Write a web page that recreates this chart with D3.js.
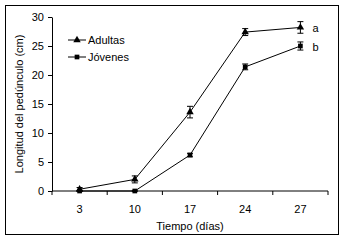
<!DOCTYPE html>
<html>
<head>
<meta charset="utf-8">
<script src="https://cdn.jsdelivr.net/npm/d3@7"></script>
<style>
  body { margin: 0; background: #fff; }
  text { font-family: "Liberation Sans", Arial, sans-serif; font-size: 11px; fill: #000; }
</style>
</head>
<body>
<div id="drawing"></div>
<script>
var width = 344;
var height = 240;
var margin = {top: 17, right: 16, bottom: 49, left: 52};

var dias = ["3", "10", "17", "24", "27"];
var adultas = [0.3, 2.0, 13.6, 27.4, 28.2];
var adultasErr = [0.3, 0.6, 1.0, 0.6, 1.0];
var jovenes = [0, 0, 6.2, 21.4, 25.0];
var jovenesErr = [0.1, 0.1, 0.3, 0.5, 0.7];
var yTicks = [0, 5, 10, 15, 20, 25, 30];

var svg = d3.select("#drawing").append("svg")
  .attr("width", width)
  .attr("height", height);

// outer frame
svg.append("rect")
  .attr("x", 5.5).attr("y", 5.5)
  .attr("width", 333).attr("height", 229)
  .attr("fill", "none").attr("stroke", "#000");

var plotW = width - margin.left - margin.right;
var plotH = height - margin.top - margin.bottom;

var g = svg.append("g")
  .attr("transform", `translate(${margin.left}, ${margin.top})`);

var x = d3.scaleBand().domain(dias).range([0, plotW]);
var y = d3.scaleLinear().domain([0, 30]).range([plotH, 0]);

// y axis
var yAxis = g.append("g")
  .call(d3.axisLeft(y).tickValues(yTicks).tickSize(4).tickPadding(4).tickSizeOuter(0));
yAxis.select(".domain").attr("stroke", "#000");

// x axis with ticks between categories
var xAxis = g.append("g").attr("transform", `translate(0, ${plotH})`);
xAxis.append("line")
  .attr("x1", 0).attr("x2", plotW)
  .attr("stroke", "#000");
xAxis.selectAll(".tk")
  .data(d3.range(dias.length + 1))
  .join("line")
  .attr("x1", i => i * x.step()).attr("x2", i => i * x.step())
  .attr("y1", 0).attr("y2", 4)
  .attr("stroke", "#000");
xAxis.selectAll(".lbl")
  .data(dias)
  .join("text")
  .attr("x", d => x(d) + x.bandwidth() / 2)
  .attr("y", 22)
  .attr("text-anchor", "middle")
  .text(d => d);

// axis titles
svg.append("text")
  .attr("x", margin.left + plotW / 2)
  .attr("y", 230)
  .attr("text-anchor", "middle")
  .text("Tiempo (días)");

svg.append("text")
  .attr("transform", `translate(23, ${margin.top + plotH / 2}) rotate(-90)`)
  .attr("text-anchor", "middle")
  .text("Longitud del pedúnculo (cm)");

function cx(i) { return x(dias[i]) + x.bandwidth() / 2; }

function drawSeries(vals, errs, shape) {
  var line = d3.line().x((d, i) => cx(i)).y(d => y(d));
  g.append("path")
    .attr("d", line(vals))
    .attr("fill", "none")
    .attr("stroke", "#000")
    .attr("stroke-width", 1);

  vals.forEach((v, i) => {
    var e = errs[i];
    var bars = g.append("g").attr("stroke", "#000");
    bars.append("line").attr("x1", cx(i)).attr("x2", cx(i)).attr("y1", y(v - e)).attr("y2", y(v + e));
    bars.append("line").attr("x1", cx(i) - 3).attr("x2", cx(i) + 3).attr("y1", y(v - e)).attr("y2", y(v - e));
    bars.append("line").attr("x1", cx(i) - 3).attr("x2", cx(i) + 3).attr("y1", y(v + e)).attr("y2", y(v + e));
  });

  g.selectAll(null)
    .data(vals)
    .join("path")
    .attr("transform", (d, i) => `translate(${cx(i)}, ${y(d)})`)
    .attr("d", d3.symbol().type(shape).size(shape === d3.symbolSquare ? 22 : 24)())
    .attr("fill", "#000");
}

drawSeries(adultas, adultasErr, d3.symbolTriangle);
drawSeries(jovenes, jovenesErr, d3.symbolSquare);

// significance letters
g.append("text").attr("x", cx(4) + 12).attr("y", y(adultas[4]) + 1).attr("dy", "0.35em").text("a");
g.append("text").attr("x", cx(4) + 12).attr("y", y(jovenes[4]) + 1).attr("dy", "0.35em").text("b");

// legend
var legend = svg.append("g").attr("transform", "translate(68, 40)");
[["Adultas", d3.symbolTriangle], ["Jóvenes", d3.symbolSquare]].forEach((item, i) => {
  var row = legend.append("g").attr("transform", `translate(0, ${i * 17})`);
  row.append("line").attr("x1", 0).attr("x2", 18).attr("stroke", "#000");
  row.append("path")
    .attr("transform", "translate(9, 0)")
    .attr("d", d3.symbol().type(item[1]).size(item[1] === d3.symbolSquare ? 22 : 24)())
    .attr("fill", "#000");
  row.append("text").attr("x", 20).attr("dy", "0.35em").text(item[0]);
});
</script>
</body>
</html>
